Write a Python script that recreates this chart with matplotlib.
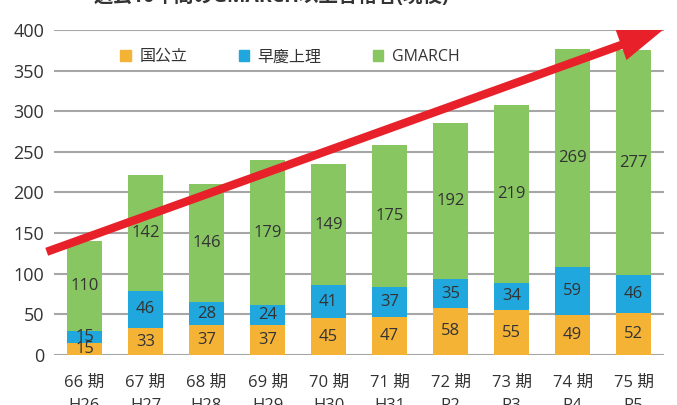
import matplotlib
matplotlib.use('Agg')
import matplotlib.pyplot as plt
import numpy as np
from matplotlib.patches import Patch

plt.rcParams['font.family'] = ['Open Sans', 'Noto Sans CJK JP', 'DejaVu Sans']

# データ
terms = ['66 期', '67 期', '68 期', '69 期', '70 期', '71 期', '72 期', '73 期', '74 期', '75 期']
years = ['H26', 'H27', 'H28', 'H29', 'H30', 'H31', 'R2', 'R3', 'R4', 'R5']
kokkoritsu = [15, 33, 37, 37, 45, 47, 58, 55, 49, 52]
sokei = [15, 46, 28, 24, 41, 37, 35, 34, 59, 46]
gmarch = [110, 142, 146, 179, 149, 175, 192, 219, 269, 277]

series = [('国公立', kokkoritsu, '#F5B336'),
          ('早慶上理', sokei, '#1FA7DE'),
          ('GMARCH', gmarch, '#88C662')]

fig = plt.figure(figsize=(6.77, 4.05), dpi=100, facecolor='white')
ax = fig.add_axes([0.0798, 0.1235, 0.9012, 0.8025])

x = np.arange(len(terms))
bottom = np.zeros(len(terms))
for name, vals, color in series:
    vals = np.array(vals)
    ax.bar(x, vals, width=0.57, bottom=bottom, color=color, zorder=2)
    for xi, b, v in zip(x, bottom, vals):
        ax.text(xi, b + v / 2, str(v), ha='center', va='center',
                fontsize=12, color='#333333', zorder=3)
    bottom += vals

# グリッド
ax.set_ylim(0, 400)
ax.set_xlim(-0.5, 9.5)
ax.set_yticks(range(0, 401, 50))
ax.yaxis.grid(True, color='#A6A6A6', linewidth=1.5, zorder=0)
ax.set_axisbelow(True)
for s in ax.spines.values():
    s.set_visible(False)
ax.tick_params(axis='y', length=0, pad=7, labelsize=13, labelcolor='#333333')
ax.tick_params(axis='x', length=0, pad=14, labelsize=12, labelcolor='#333333')
ax.set_xticks(x)
ax.set_xticklabels([f'{t}\n{y}' for t, y in zip(terms, years)],
                   linespacing=1.65, va='top')

# 凡例
handles = [Patch(color=c, label=n) for n, _, c in series]
ax.legend(handles=handles, loc='upper left', bbox_to_anchor=(0.085, 0.985),
          ncol=3, frameon=False, fontsize=11.5, handlelength=0.65,
          handleheight=0.65, handletextpad=0.55, columnspacing=3.2,
          labelcolor='#333333')

# 矢印
ax.annotate('', xy=(9.48, 400), xytext=(-0.62, 127),
            arrowprops=dict(arrowstyle='simple,head_length=1.6,head_width=1.15,tail_width=0.3',
                            mutation_scale=20, color='#E8202A', lw=0,
                            shrinkA=0, shrinkB=0),
            annotation_clip=False, zorder=5)

# タイトル (上端で切れている)
fig.text(0.40, 0.996, '過去10年間のGMARCH以上合格者(現役)', ha='center',
         va='baseline', fontsize=14, fontweight='bold', color='#333333')

fig.savefig('out.png', dpi=100, facecolor='white')
